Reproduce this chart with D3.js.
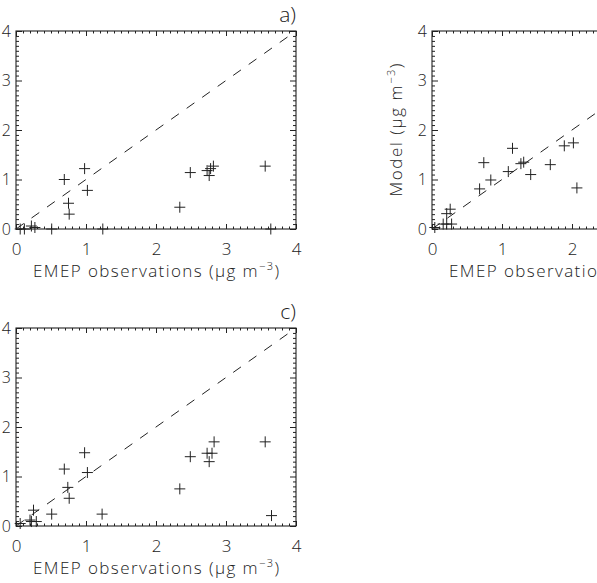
<!DOCTYPE html>
<html>
<head>
<meta charset="utf-8">
<script src="https://cdn.jsdelivr.net/npm/d3@7/dist/d3.min.js"></script>
<style>
  html, body { margin: 0; padding: 0; background: #fff; }
  svg { display: block; }
  text { font-family: "Open Sans", "DejaVu Sans", sans-serif; font-weight: 300; fill: #222; }
</style>
</head>
<body>
<svg id="chart" width="597" height="583"></svg>
<script>
// ---------- data ----------
const majorTicks = [0, 1, 2, 3, 4];
const minorTicks = d3.range(0, 41).map(d => d / 10).filter(d => d % 1 !== 0);
const tickLabels = ["0", "1", "2", "3", "4"];
const panelLabels = ["a)", "b)", "c)"];
const xTitle = "EMEP observations";
const yTitle = "Model";

// panel a
const obsA = [0.06, 0.12, 0.22, 0.27, 0.51, 0.69, 0.75, 0.76, 0.98, 1.02, 1.24, 2.34, 2.49, 2.73, 2.76, 2.78, 2.82, 3.56, 3.64];
const modA = [0.00, 0.00, 0.06, 0.03, 0.00, 1.00, 0.52, 0.30, 1.22, 0.78, 0.00, 0.44, 1.14, 1.18, 1.08, 1.22, 1.27, 1.27, 0.00];
// panel b
const obsB = [0.04, 0.16, 0.21, 0.21, 0.26, 0.28, 0.68, 0.74, 0.84, 1.09, 1.15, 1.27, 1.31, 1.41, 1.69, 1.89, 2.02, 2.07];
const modB = [0.03, 0.10, 0.31, 0.10, 0.40, 0.10, 0.81, 1.34, 0.99, 1.16, 1.63, 1.32, 1.35, 1.10, 1.30, 1.68, 1.74, 0.83];
// panel c
const obsC = [0.06, 0.20, 0.22, 0.25, 0.29, 0.51, 0.69, 0.74, 0.76, 0.98, 1.02, 1.23, 2.34, 2.49, 2.73, 2.76, 2.80, 2.83, 3.56, 3.65];
const modC = [0.05, 0.12, 0.09, 0.32, 0.09, 0.24, 1.15, 0.78, 0.56, 1.48, 1.08, 0.24, 0.75, 1.40, 1.47, 1.30, 1.47, 1.70, 1.70, 0.21];

const oneToOne = [0, 4];

// ---------- drawing ----------
const svg = d3.select("#chart");
const ink = "#222";
const fontFam = '"Open Sans", "DejaVu Sans", sans-serif';

function panel(cfg) {
  const g = svg.append("g");
  const x = d3.scaleLinear().domain([0, 4]).range([cfg.x0, cfg.x0 + 280]);
  const y = d3.scaleLinear().domain([0, 4]).range([cfg.y0 + 198, cfg.y0]);

  const clipId = "clip" + cfg.id;
  svg.append("clipPath").attr("id", clipId).append("rect")
    .attr("x", x(0)).attr("y", y(4)).attr("width", x(4) - x(0)).attr("height", y(0) - y(4));

  const styleAxis = sel => {
    sel.select(".domain").remove();
    sel.selectAll(".tick line").attr("stroke", ink).attr("stroke-width", 1);
  };
  // minor ticks
  g.append("g").attr("transform", `translate(0,${y(0)})`)
    .call(d3.axisBottom(x).tickValues(minorTicks).tickSize(-2.5).tickFormat("")).call(styleAxis);
  g.append("g").attr("transform", `translate(0,${y(4)})`)
    .call(d3.axisTop(x).tickValues(minorTicks).tickSize(-2.5).tickFormat("")).call(styleAxis);
  g.append("g").attr("transform", `translate(${x(0)},0)`)
    .call(d3.axisLeft(y).tickValues(minorTicks).tickSize(-3).tickFormat("")).call(styleAxis);
  g.append("g").attr("transform", `translate(${x(4)},0)`)
    .call(d3.axisRight(y).tickValues(minorTicks).tickSize(-3).tickFormat("")).call(styleAxis);

  // major ticks with labels
  const bx = g.append("g").attr("transform", `translate(0,${y(0)})`)
    .call(d3.axisBottom(x).tickValues(majorTicks).tickSize(-5).tickPadding(14)
      .tickFormat((d, i) => tickLabels[i])).call(styleAxis);
  bx.selectAll("text").attr("font-size", 17).attr("fill", ink)
    .style("font-family", fontFam).style("font-weight", 300);
  g.append("g").attr("transform", `translate(0,${y(4)})`)
    .call(d3.axisTop(x).tickValues(majorTicks).tickSize(-5).tickFormat("")).call(styleAxis);
  const ly = g.append("g").attr("transform", `translate(${x(0)},0)`)
    .call(d3.axisLeft(y).tickValues(majorTicks).tickSize(-6).tickPadding(5)
      .tickFormat((d, i) => tickLabels[i])).call(styleAxis);
  ly.selectAll("text").attr("font-size", 16).attr("fill", ink)
    .style("font-family", fontFam).style("font-weight", 300);
  g.append("g").attr("transform", `translate(${x(4)},0)`)
    .call(d3.axisRight(y).tickValues(majorTicks).tickSize(-6).tickFormat("")).call(styleAxis);

  // box
  g.append("rect").attr("x", x(0)).attr("y", y(4))
    .attr("width", x(4) - x(0)).attr("height", y(0) - y(4))
    .attr("fill", "none").attr("stroke", ink).attr("stroke-width", 1.1);

  // 1:1 dashed line
  g.append("line").attr("clip-path", `url(#${clipId})`)
    .attr("x1", x(oneToOne[0])).attr("y1", y(oneToOne[0]))
    .attr("x2", x(oneToOne[1])).attr("y2", y(oneToOne[1]))
    .attr("stroke", ink).attr("stroke-width", 1).attr("stroke-dasharray", "9.5,9.5");

  // crosses
  const pts = cfg.obs.map((o, i) => [o, cfg.mod[i]]);
  const r = 5.5;
  g.append("g").selectAll("path").data(pts).join("path")
    .attr("d", d => {
      const px = x(d[0]), py = y(d[1]);
      return `M${px - r},${py}H${px + r}M${px},${py - r}V${py + r}`;
    })
    .attr("stroke", ink).attr("stroke-width", 1).attr("fill", "none");

  // x title
  const xt = g.append("text").attr("x", (x(0) + x(4)) / 2).attr("y", y(0) + 48)
    .attr("text-anchor", "middle").attr("font-size", 17)
    .attr("textLength", 246).attr("lengthAdjust", "spacing");
  xt.append("tspan").text(xTitle + " (μg m");
  xt.append("tspan").attr("dy", -7).attr("font-size", 11).text("−3");
  xt.append("tspan").attr("dy", 7).text(")");

  // y title (panel b only)
  if (cfg.yTitle) {
    const yt = g.append("text")
      .attr("transform", `translate(${x(0) - 30},${(y(0) + y(4)) / 2}) rotate(-90)`)
      .attr("text-anchor", "middle").attr("font-size", 17)
      .attr("textLength", 133).attr("lengthAdjust", "spacing");
    yt.append("tspan").text(yTitle + " (μg m");
    yt.append("tspan").attr("dy", -7).attr("font-size", 11).text("−3");
    yt.append("tspan").attr("dy", 7).text(")");
  }

  // panel label
  if (cfg.label) {
    g.append("text").attr("x", x(4)).attr("y", y(4) - 9)
      .attr("text-anchor", "end").attr("font-size", 21).text(cfg.label);
  }
}

panel({ id: "a", x0: 16, y0: 31, obs: obsA, mod: modA, label: panelLabels[0] });
panel({ id: "b", x0: 432, y0: 31, obs: obsB, mod: modB, label: null, yTitle: true });
panel({ id: "c", x0: 16, y0: 328, obs: obsC, mod: modC, label: panelLabels[2] });
</script>
</body>
</html>
